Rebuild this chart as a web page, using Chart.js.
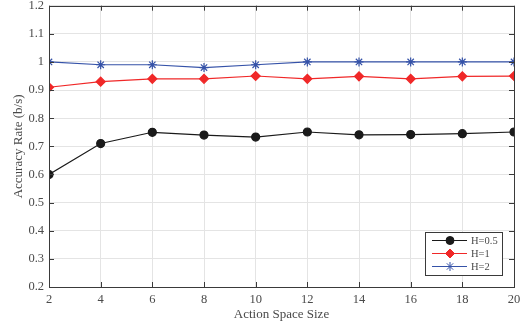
<!DOCTYPE html>
<html>
<head>
<meta charset="utf-8">
<script src="https://cdn.jsdelivr.net/npm/chart.js@4.4.0/dist/chart.umd.min.js"></script>
<style>
  html, body { margin: 0; padding: 0; background: #fff; }
  #wrap { width: 527px; height: 329px; }
</style>
</head>
<body>
<div id="wrap"><canvas id="myChart"></canvas></div>
<script>
// данные с графика
var actionSizes = [2, 4, 6, 8, 10, 12, 14, 16, 18, 20];
var seriesNames = ['H=0.5', 'H=1', 'H=2'];
var accH05 = [0.60, 0.71, 0.75, 0.74, 0.733, 0.751, 0.741, 0.742, 0.745, 0.751];
var accH1 = [0.91, 0.93, 0.94, 0.94, 0.95, 0.94, 0.949, 0.94, 0.949, 0.95];
var accH2 = [1.0, 0.99, 0.99, 0.98, 0.99, 1.0, 1.0, 1.0, 1.0, 1.0];
var yTicks = [0.2, 0.3, 0.4, 0.5, 0.6, 0.7, 0.8, 0.9, 1, 1.1, 1.2];

var axisColor = '#3a3a3a';
var textColor = '#4a4a4a';
var fontFamily = '"Liberation Serif", "Times New Roman", serif';

function toPoints(arr) {
    var pts = [];
    for (var i = 0; i < actionSizes.length; i++) {
        pts.push({x: actionSizes[i], y: arr[i]});
    }
    return pts;
}

// рамка и внутренние засечки как в matlab
var boxPlugin = {
    id: 'boxPlugin',
    afterDatasetsDraw: function(chart) {
        var ctx = chart.ctx;
        var a = chart.chartArea;
        var xs = chart.scales.x, ys = chart.scales.y;
        var len = 5;
        ctx.save();
        ctx.strokeStyle = axisColor;
        ctx.lineWidth = 1;
        ctx.beginPath();
        for (var i = 0; i < actionSizes.length; i++) {
            var px = Math.round(xs.getPixelForValue(actionSizes[i])) + 0.5;
            ctx.moveTo(px, a.bottom); ctx.lineTo(px, a.bottom - len);
            ctx.moveTo(px, a.top); ctx.lineTo(px, a.top + len);
        }
        for (var j = 0; j < yTicks.length; j++) {
            var py = Math.round(ys.getPixelForValue(yTicks[j])) + 0.5;
            ctx.moveTo(a.left, py); ctx.lineTo(a.left + len, py);
            ctx.moveTo(a.right, py); ctx.lineTo(a.right - len, py);
        }
        ctx.stroke();
        ctx.strokeRect(Math.round(a.left) + 0.5, Math.round(a.top) + 0.5,
            Math.round(a.right - a.left), Math.round(a.bottom - a.top));
        ctx.restore();
    }
};

// легенда внутри области графика, справа снизу
var legendPlugin = {
    id: 'legendPlugin',
    afterDraw: function(chart) {
        var ctx = chart.ctx;
        var a = chart.chartArea;
        var w = 77, h = 43;
        var x0 = a.right - 12 - w, y0 = a.bottom - 12 - h;
        ctx.save();
        ctx.fillStyle = '#fff';
        ctx.fillRect(x0, y0, w, h);
        ctx.strokeStyle = axisColor;
        ctx.lineWidth = 1;
        ctx.strokeRect(Math.round(x0) + 0.5, Math.round(y0) + 0.5, w, h);
        ctx.font = '10.5px ' + fontFamily;
        ctx.textBaseline = 'middle';
        chart.data.datasets.forEach(function(ds, k) {
            var cy = y0 + 8.5 + k * 13;
            ctx.strokeStyle = ds.borderColor;
            ctx.lineWidth = 1;
            ctx.beginPath();
            ctx.moveTo(x0 + 7, cy); ctx.lineTo(x0 + 42, cy);
            ctx.stroke();
            ctx.fillStyle = ds.pointBackgroundColor;
            ctx.strokeStyle = ds.pointBorderColor;
            Chart.helpers.drawPoint(ctx, {
                pointStyle: ds.pointStyle,
                radius: ds.pointRadius,
                rotation: 0,
                borderWidth: 1
            }, x0 + 25, cy);
            ctx.fillStyle = textColor;
            ctx.fillText(ds.label, x0 + 46, cy + 0.5);
        });
        ctx.restore();
    }
};

var ctx = document.getElementById('myChart').getContext('2d');
var myLineChart = new Chart(ctx, {
    type: 'line',
    data: {
        datasets: [
            {
                label: seriesNames[0],
                data: toPoints(accH05),
                borderColor: '#1a1a1a',
                backgroundColor: '#1a1a1a',
                pointBackgroundColor: '#1a1a1a',
                pointBorderColor: '#1a1a1a',
                pointStyle: 'circle',
                pointRadius: 4,
                borderWidth: 1.2
            },
            {
                label: seriesNames[1],
                data: toPoints(accH1),
                borderColor: '#f02828',
                backgroundColor: '#f02828',
                pointBackgroundColor: '#f02828',
                pointBorderColor: '#f02828',
                pointStyle: 'rectRot',
                pointRadius: 4.5,
                borderWidth: 1.2
            },
            {
                label: seriesNames[2],
                data: toPoints(accH2),
                borderColor: '#3552a8',
                backgroundColor: '#3552a8',
                pointBackgroundColor: '#3552a8',
                pointBorderColor: '#3552a8',
                pointStyle: 'star',
                pointRadius: 4.5,
                borderWidth: 1.2
            }
        ]
    },
    options: {
        responsive: true,
        maintainAspectRatio: false,
        animation: false,
        events: [],
        layout: { padding: { top: 5, right: 13, left: 0, bottom: 0 } },
        plugins: {
            legend: { display: false },
            tooltip: { enabled: false }
        },
        scales: {
            x: {
                type: 'linear',
                min: 2,
                max: 20,
                afterBuildTicks: function(s) {
                    s.ticks = actionSizes.map(function(v) { return {value: v}; });
                },
                afterFit: function(s) {
                    s.height = 42;
                    s.paddingLeft = 0;
                    s.paddingRight = 0;
                },
                grid: { color: '#e4e4e4', drawTicks: false },
                border: { display: false },
                ticks: {
                    color: textColor,
                    padding: 5,
                    maxRotation: 0,
                    font: { family: fontFamily, size: 12.5 }
                },
                title: {
                    display: true,
                    text: 'Action Space Size',
                    color: textColor,
                    padding: { top: 2, bottom: 7 },
                    font: { family: fontFamily, size: 13 }
                }
            },
            y: {
                type: 'linear',
                min: 0.2,
                max: 1.2,
                afterBuildTicks: function(s) {
                    s.ticks = yTicks.map(function(v) { return {value: v}; });
                },
                afterFit: function(s) {
                    s.width = 49;
                    s.paddingTop = 0;
                    s.paddingBottom = 0;
                },
                grid: { color: '#e4e4e4', drawTicks: false },
                border: { display: false },
                ticks: {
                    color: textColor,
                    padding: 5,
                    font: { family: fontFamily, size: 12.5 },
                    callback: function(v) { return String(Number(v.toFixed(1))); }
                },
                title: {
                    display: true,
                    text: 'Accuracy Rate (b/s)',
                    color: textColor,
                    padding: { top: 11, bottom: 2 },
                    font: { family: fontFamily, size: 13 }
                }
            }
        }
    },
    plugins: [boxPlugin, legendPlugin]
});
</script>
</body>
</html>
